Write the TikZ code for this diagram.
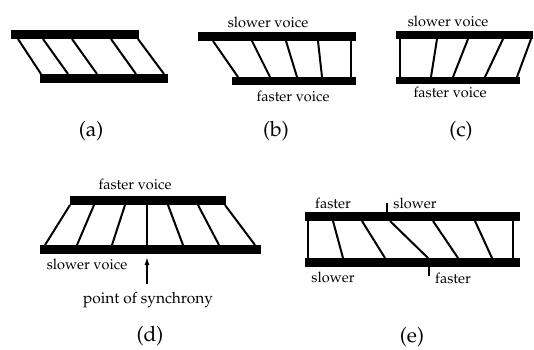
\documentclass[tikz,border=0pt]{standalone}
\usepackage[T1]{fontenc}
\usepackage{mathpazo}
\usetikzlibrary{arrows.meta}
\begin{document}
\begin{tikzpicture}[x=1pt,y=-1pt,
  bar/.style={fill=black},
  rung/.style={line width=2pt},
  lab/.style={font=\fontsize{14.5}{16}\selectfont, inner sep=0pt},
  captxt/.style={font=\fontsize{21}{23}\selectfont, inner sep=0pt},
  tickmark/.style={line width=1.6pt}]
\useasboundingbox (0,0) rectangle (534,349);
% (a)
\fill[bar] (11,30) rectangle (139,39);
\fill[bar] (40,74) rectangle (168,83);
\foreach \t/\b [count=\i] in {18/41,43/68,72/97,111/136,138/164}{
  \coordinate (at\i) at (\t,39); \coordinate (ab\i) at (\b,74);
  \draw[rung] (at\i) -- (ab\i);}
\node[captxt] (capa) at (91,131) {(a)};
% (b)
\fill[bar] (198,32) rectangle (356,41);
\fill[bar] (232,77) rectangle (356,85);
\foreach \t/\b [count=\i] in {213/238,252/270,286/297,318/322,351/351}{
  \coordinate (bt\i) at (\t,41); \coordinate (bb\i) at (\b,77);
  \draw[rung] (bt\i) -- (bb\i);}
\node[lab] (bslow) at (268,22) {slower voice};
\node[lab] (bfast) at (293,96) {faster voice};
\node[captxt] (capb) at (276,131) {(b)};
% (c)
\fill[bar] (396,31) rectangle (533,39);
\fill[bar] (396,77) rectangle (520,84);
\foreach \t/\b [count=\i] in {400/400,437/431,468/453,503/485,531/517}{
  \coordinate (ct\i) at (\t,39); \coordinate (cb\i) at (\b,77);
  \draw[rung] (ct\i) -- (cb\i);}
\node[lab] (cslow) at (448,21) {slower voice};
\node[lab] (cfast) at (450,92) {faster voice};
\node[captxt] (capc) at (461,131) {(c)};
% (d)
\fill[bar] (70,196) rectangle (226,205);
\fill[bar] (40,245) rectangle (261,254);
\foreach \t/\b [count=\i] in {70/45,94/77,125/112,147/147,168/183,198/219,225/255}{
  \coordinate (dt\i) at (\t,205); \coordinate (db\i) at (\b,245);
  \draw[rung] (dt\i) -- (db\i);}
\node[lab] (dfast) at (135,184) {faster voice};
\node[lab] (dslow) at (87,264) {slower voice};
\node[font=\fontsize{15.5}{17}\selectfont, inner sep=0pt] (sync) at (148,300) {point of synchrony};
\coordinate (arrtip) at (147,257);
\coordinate (arrtail) at (147,284);
\draw[line width=1.5pt,-{Latex[length=8pt,width=5pt]}] (arrtail) -- (arrtip);
\node[captxt] (capd) at (150,336) {(d)};
% (e)
\fill[bar] (305,212) rectangle (520,221);
\fill[bar] (305,258) rectangle (520,267);
\foreach \t/\b [count=\i] in {308/308,333/343,362/385,390/428,433/458,475/492,513/513}{
  \coordinate (et\i) at (\t,221); \coordinate (eb\i) at (\b,258);
  \draw[rung] (et\i) -- (eb\i);}
\coordinate (ek1a) at (387,203); \coordinate (ek1b) at (387,212);
\coordinate (ek2a) at (429,267); \coordinate (ek2b) at (429,276);
\draw[tickmark] (ek1a) -- (ek1b);
\draw[tickmark] (ek2a) -- (ek2b);
\node[lab] (efast1) at (333,203) {faster};
\node[lab] (eslow1) at (415,203) {slower};
\node[lab] (eslow2) at (333,277) {slower};
\node[lab] (efast2) at (453,278) {faster};
\node[captxt] (cape) at (412,337) {(e)};
\end{tikzpicture}
\end{document}
